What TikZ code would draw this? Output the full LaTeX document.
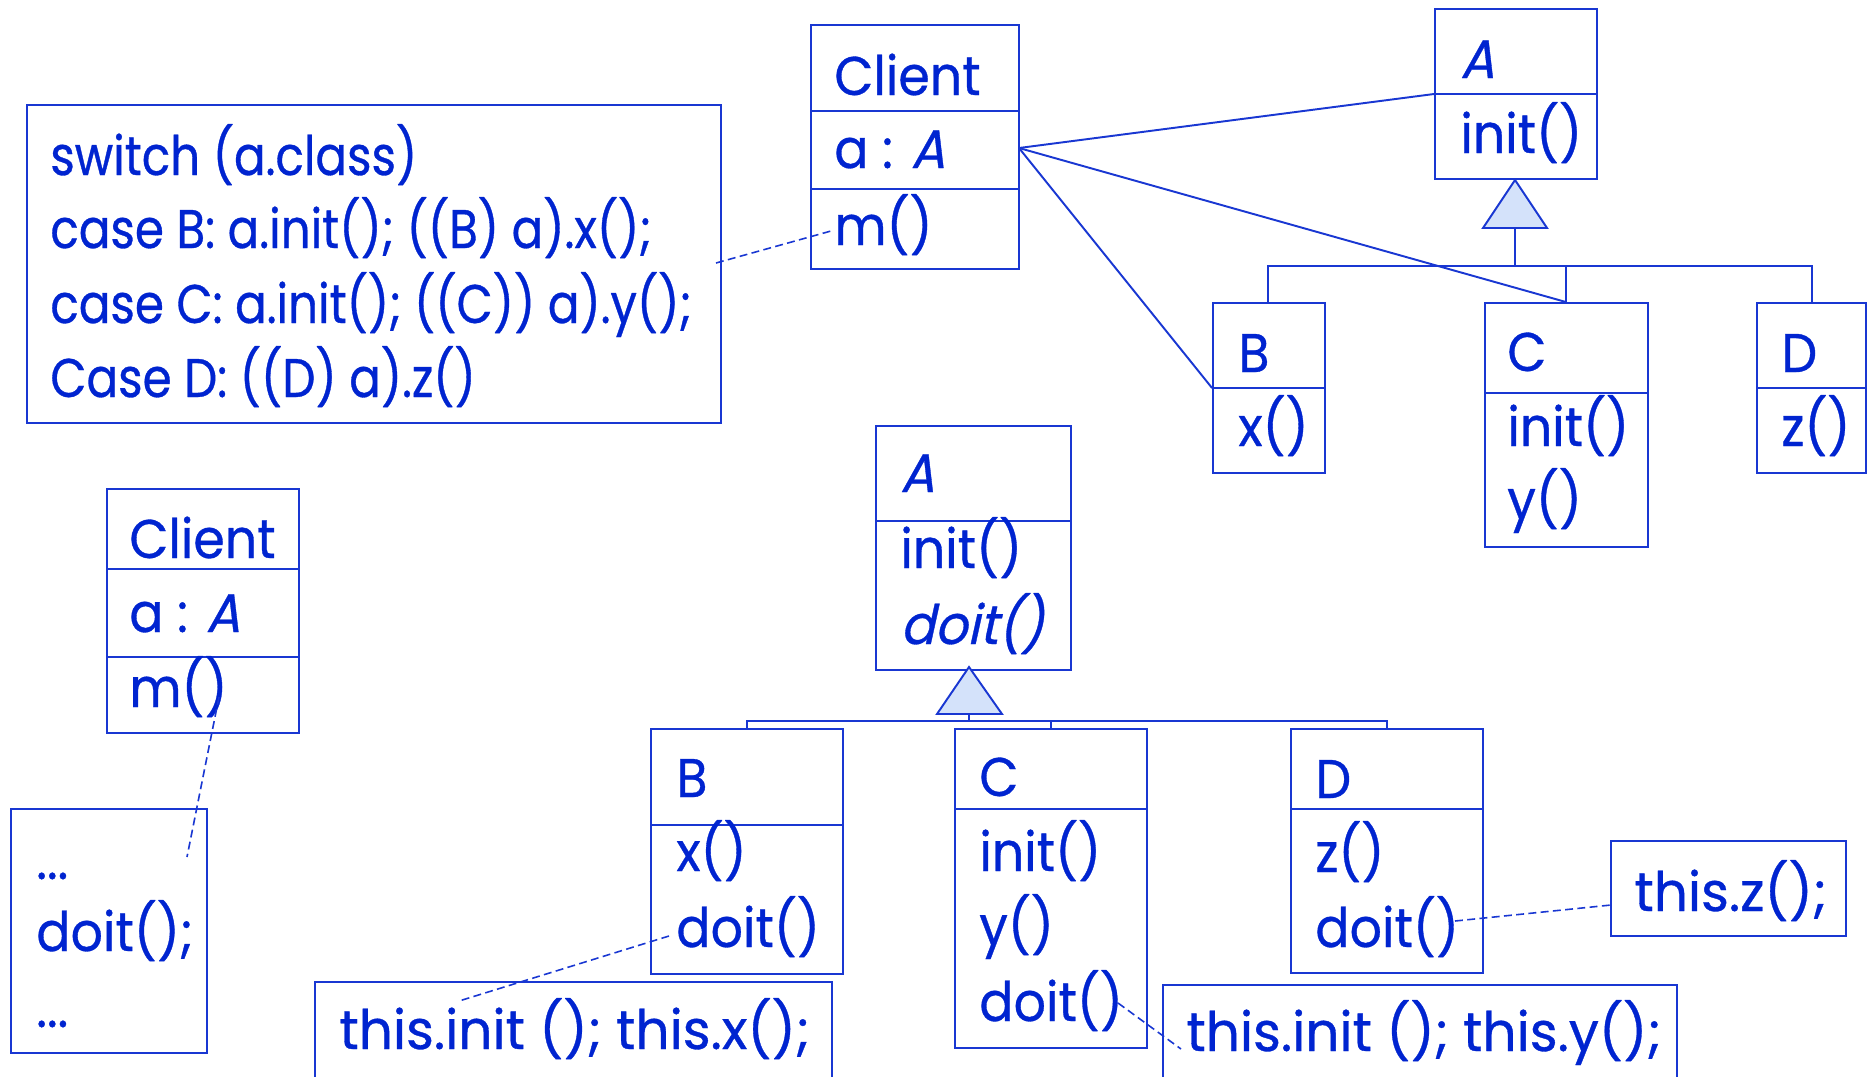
\documentclass[tikz,border=0pt]{standalone}
\usepackage{fontspec}
\setmainfont{Poppins}[FakeStretch=0.93,FakeBold=0.6]
\newfontfamily\absfont{Poppins}[FakeStretch=0.93,FakeSlant=0.22,FakeBold=0.6]
\newfontfamily\codefont{Poppins}[FakeStretch=0.86,FakeBold=0.6]
\newfontfamily\notefont{Poppins}[FakeStretch=0.98,FakeBold=0.6]
\usetikzlibrary{fit}
\definecolor{inkblue}{RGB}{0,36,208}
\definecolor{lineblue}{RGB}{25,55,210}
\definecolor{tribg}{RGB}{212,226,250}
\tikzset{
  umlbox/.style={draw=lineblue, line width=1.1pt, inner sep=0pt, fill=white},
  lbl/.style={anchor=base west, inner sep=0pt, text=inkblue, font=\fontsize{31}{36}\selectfont},
  codelbl/.style={lbl, font=\fontsize{31}{36}\codefont},
  notelbl/.style={lbl, font=\fontsize{31}{36}\notefont},
  divider/.style={draw=lineblue, line width=1.1pt},
  assoc/.style={draw=lineblue, line width=1.1pt},
  note/.style={draw=lineblue, line width=0.9pt, dash pattern=on 4.5pt off 2.5pt},
  gentri/.style={draw=lineblue, line width=1.1pt, fill=tribg, line join=miter},
}
\newcommand{\clsA}{{\absfont A}}
\begin{document}
\begin{tikzpicture}[x=0.02cm, y=-0.02cm]
\useasboundingbox (0,0) rectangle (1869,1076);
\clip (0,0) rectangle (1869,1076);

% ---------- upper diagram: Client with a type switch ----------
\coordinate (sw-nw) at (27,105);  \coordinate (sw-se) at (721,423);
\node[umlbox, fit=(sw-nw)(sw-se)] (switch) {};
\node[codelbl] (sw1) at (50,175) {switch (a.class)};
\node[codelbl] (sw2) at (50,248) {case B: a.init(); ((B) a).x();};
\node[codelbl] (sw3) at (50,323) {case C: a.init(); ((C)) a).y();};
\node[codelbl] (sw4) at (50,397) {Case D: ((D) a).z()};

\coordinate (cl-nw) at (811,25);  \coordinate (cl-se) at (1019,269);
\node[umlbox, fit=(cl-nw)(cl-se)] (client) {};
\draw[divider] (client.west |- 0,111) -- (client.east |- 0,111);
\draw[divider] (client.west |- 0,189) -- (client.east |- 0,189);
\node[lbl] (clname) at (834,95) {Client};
\node[lbl] (clattr) at (834,168) {a : \clsA};
\node[lbl] (clop) at (834,245) {m()};

\coordinate (a-nw) at (1435,9);  \coordinate (a-se) at (1597,179);
\node[umlbox, fit=(a-nw)(a-se)] (clsA) {};
\draw[divider] (clsA.west |- 0,94) -- (clsA.east |- 0,94);
\node[lbl] (aname) at (1460,78) {\clsA};
\node[lbl] (aop) at (1460,153) {init()};

\coordinate (b-nw) at (1213,303);  \coordinate (b-se) at (1325,473);
\node[umlbox, fit=(b-nw)(b-se)] (clsB) {};
\draw[divider] (clsB.west |- 0,388) -- (clsB.east |- 0,388);
\node[lbl] (bname) at (1238,372) {B};
\node[lbl] (bop) at (1238,446) {x()};

\coordinate (c-nw) at (1485,303);  \coordinate (c-se) at (1648,547);
\node[umlbox, fit=(c-nw)(c-se)] (clsC) {};
\draw[divider] (clsC.west |- 0,393) -- (clsC.east |- 0,393);
\node[lbl] (cname) at (1507,371) {C};
\node[lbl] (cop1) at (1507,446) {init()};
\node[lbl] (cop2) at (1507,519) {y()};

\coordinate (d-nw) at (1757,303);  \coordinate (d-se) at (1866,473);
\node[umlbox, fit=(d-nw)(d-se)] (clsD) {};
\draw[divider] (clsD.west |- 0,388) -- (clsD.east |- 0,388);
\node[lbl] (dname) at (1781,372) {D};
\node[lbl] (dop) at (1781,446) {z()};

% generalisation B, C, D -> A
\coordinate (tri-top) at (1515,180);
\coordinate (tri-base) at (1515,228);
\coordinate (bus) at (1515,266);
\draw[gentri] (tri-top) -- (1483,228) -- (1547,228) -- cycle;
\draw[assoc] (tri-base) -- (bus);
\draw[assoc] (clsB.north -| 1268,0) |- (bus) -| (clsD.north -| 1812,0);
\draw[assoc] (bus) -| (clsC.north -| 1566,0);

% associations from the attribute a : A
\coordinate (cl-port) at (1019,148);
\draw[assoc] (cl-port) -- (clsA.west |- 0,94);
\draw[assoc] (cl-port) -- (clsC.north -| 1566,0);
\draw[assoc] (cl-port) -- (clsB.west |- 0,388);

% note link for m()
\coordinate (sw-port) at (716,263);
\coordinate (m-port) at (831,231);
\draw[note] (sw-port) -- (m-port);

% ---------- lower diagram: polymorphic doit() ----------
\coordinate (cl2-nw) at (107,489);  \coordinate (cl2-se) at (299,733);
\node[umlbox, fit=(cl2-nw)(cl2-se)] (client2) {};
\draw[divider] (client2.west |- 0,569) -- (client2.east |- 0,569);
\draw[divider] (client2.west |- 0,657) -- (client2.east |- 0,657);
\node[lbl] (cl2name) at (129,558) {Client};
\node[lbl] (cl2attr) at (129,632) {a : \clsA};
\node[lbl] (cl2op) at (129,707) {m()};

\coordinate (body-nw) at (11,809);  \coordinate (body-se) at (207,1053);
\node[umlbox, fit=(body-nw)(body-se)] (mbody) {};
\node[lbl] (mb1) at (36,879) {...};
\node[lbl] (mb2) at (36,951) {doit();};
\node[lbl] (mb3) at (36,1027) {...};
\coordinate (m2-port) at (219,697);
\coordinate (mb-port) at (187,857);
\draw[note] (m2-port) -- (mb-port);

\coordinate (a2-nw) at (876,426);  \coordinate (a2-se) at (1071,670);
\node[umlbox, fit=(a2-nw)(a2-se)] (clsA2) {};
\draw[divider] (clsA2.west |- 0,521) -- (clsA2.east |- 0,521);
\node[lbl] (a2name) at (900,492) {\clsA};
\node[lbl] (a2op1) at (900,568) {init()};
\node[lbl] (a2op2) at (900,644) {\absfont doit()};

\coordinate (b2-nw) at (651,729);  \coordinate (b2-se) at (843,974);
\node[umlbox, fit=(b2-nw)(b2-se)] (clsB2) {};
\draw[divider] (clsB2.west |- 0,825) -- (clsB2.east |- 0,825);
\node[lbl] (b2name) at (676,797) {B};
\node[lbl] (b2op1) at (676,871) {x()};
\node[lbl] (b2op2) at (676,947) {doit()};

\coordinate (c2-nw) at (955,729);  \coordinate (c2-se) at (1147,1048);
\node[umlbox, fit=(c2-nw)(c2-se)] (clsC2) {};
\draw[divider] (clsC2.west |- 0,809) -- (clsC2.east |- 0,809);
\node[lbl] (c2name) at (979,796) {C};
\node[lbl] (c2op1) at (979,871) {init()};
\node[lbl] (c2op2) at (979,945) {y()};
\node[lbl] (c2op3) at (979,1021) {doit()};

\coordinate (d2-nw) at (1291,729);  \coordinate (d2-se) at (1483,973);
\node[umlbox, fit=(d2-nw)(d2-se)] (clsD2) {};
\draw[divider] (clsD2.west |- 0,809) -- (clsD2.east |- 0,809);
\node[lbl] (d2name) at (1315,798) {D};
\node[lbl] (d2op1) at (1315,872) {z()};
\node[lbl] (d2op2) at (1315,947) {doit()};

% generalisation B, C, D -> A (lower)
\coordinate (tri2-top) at (969,667);
\coordinate (tri2-base) at (969,714);
\coordinate (bus2) at (969,721);
\draw[assoc] (clsB2.north -| 747,0) |- (bus2) -| (clsD2.north -| 1387,0);
\draw[assoc] (bus2) -| (clsC2.north -| 1051,0);
\draw[assoc] (tri2-base) -- (bus2);
\draw[gentri] (tri2-top) -- (937,714) -- (1002,714) -- cycle;

% implementation notes
\coordinate (nz-nw) at (1611,841);  \coordinate (nz-se) at (1846,936);
\node[umlbox, fit=(nz-nw)(nz-se)] (notez) {};
\node[notelbl] (notez-t) at (1634,911) {this.z();};

\coordinate (nx-nw) at (315,982);  \coordinate (nx-se) at (832,1095);
\node[umlbox, fit=(nx-nw)(nx-se)] (notex) {};
\node[notelbl] (notex-t) at (339,1049) {this.init (); this.x();};

\coordinate (ny-nw) at (1163,985);  \coordinate (ny-se) at (1677,1095);
\node[umlbox, fit=(ny-nw)(ny-se)] (notey) {};
\node[notelbl] (notey-t) at (1186,1051) {this.init (); this.y();};

\coordinate (bd-port) at (669,936);
\coordinate (nx-port) at (459,1001);
\draw[note] (bd-port) -- (nx-port);
\coordinate (cd-port) at (1118,1003);
\coordinate (ny-port) at (1181,1049);
\draw[note] (cd-port) -- (ny-port);
\coordinate (dd-port) at (1455,921);
\coordinate (nz-port) at (1611,905);
\draw[note] (dd-port) -- (nz-port);
\end{tikzpicture}
\end{document}
